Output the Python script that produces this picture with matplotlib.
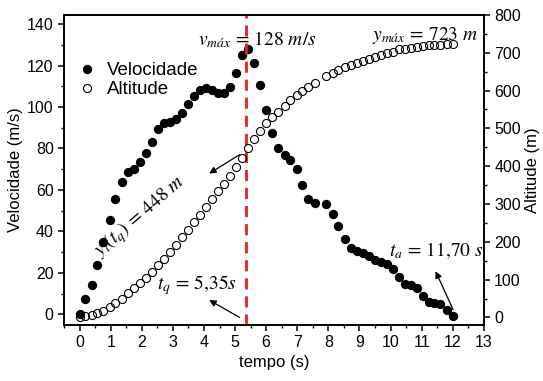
import matplotlib
matplotlib.use("Agg")
import matplotlib.pyplot as plt
from matplotlib.ticker import MultipleLocator

# --- data ---
tempo = [0.00, 0.18, 0.40, 0.57, 0.75, 0.97, 1.15, 1.35, 1.56, 1.74,
         1.94, 2.13, 2.32, 2.52, 2.71, 2.91, 3.10, 3.29, 3.49, 3.67,
         3.87, 4.06, 4.25, 4.45, 4.64, 4.84, 5.04, 5.23, 5.42, 5.62,
         5.81, 6.01, 6.20, 6.39, 6.59, 6.78, 6.98, 7.16, 7.35, 7.56,
         7.94, 8.14, 8.32, 8.52, 8.72, 8.91, 9.11, 9.30, 9.49, 9.69,
         9.88, 10.07, 10.28, 10.46, 10.66, 10.84, 11.03, 11.23, 11.41, 11.60,
         11.81, 12.00]

velocidade = [0.0, 7.5, 13.9, 23.6, 34.9, 45.7, 55.4, 63.9, 68.5, 70.1,
              73.6, 77.7, 83.3, 89.6, 92.5, 93.0, 94.4, 97.3, 101.4, 105.1,
              108.3, 109.1, 108.3, 106.7, 107.0, 109.6, 116.4, 125.3, 128.0, 121.5,
              110.7, 98.6, 87.4, 80.4, 76.8, 74.4, 70.1, 62.3, 55.5, 53.5,
              53.1, 48.6, 42.6, 36.2, 32.0, 30.5, 29.5, 27.9, 26.3, 25.2,
              24.1, 21.8, 17.9, 14.7, 13.9, 12.6, 8.7, 5.8, 5.3, 5.0,
              2.1, -1.0]

altitude = [0, 3, 6, 11, 18, 28, 39, 50, 64, 77,
            90, 103, 121, 138, 154, 174, 191, 212, 231, 251,
            271, 292, 313, 333, 354, 375, 397, 421, 448, 471,
            493, 513, 529, 544, 559, 575, 588, 600, 610, 619,
            638, 647, 654, 661, 667, 673, 679, 683, 688, 694,
            698, 703, 709, 711, 713, 715, 717, 719, 720, 721,
            722, 723]

t_q = 5.35

plt.rcParams['font.family'] = ['Liberation Sans', 'DejaVu Sans']
plt.rcParams['mathtext.fontset'] = 'stix'
plt.rcParams['axes.linewidth'] = 1.2

fig = plt.figure(figsize=(5.43, 3.81), dpi=100)
ax = fig.add_axes([0.118, 0.147, 0.773, 0.814])
ax2 = ax.twinx()

l1, = ax.plot(tempo, velocidade, 'o', color='black', markersize=5.7, label='Velocidade')
l2, = ax2.plot(tempo, altitude, 'o', markerfacecolor='none', markeredgecolor='black',
               markeredgewidth=0.8, markersize=5.8, label='Altitude')

ax.axvline(t_q, color='#e8201f', linewidth=2, linestyle=(0, (4, 2.5)), zorder=5)

ax.set_xlim(-0.5, 13)
ax.set_ylim(-5.2, 144.5)
ax2.set_ylim(-20, 800)

ax.xaxis.set_major_locator(MultipleLocator(1))
ax.xaxis.set_minor_locator(MultipleLocator(0.5))
ax.yaxis.set_major_locator(MultipleLocator(20))
ax.yaxis.set_minor_locator(MultipleLocator(10))
ax2.yaxis.set_major_locator(MultipleLocator(100))
ax2.yaxis.set_minor_locator(MultipleLocator(50))

for a in (ax, ax2):
    a.tick_params(which='major', length=4, width=1.1, labelsize=11.5, direction='out')
    a.tick_params(which='minor', length=2.5, width=1.0, direction='out')

ax.set_xlabel('tempo (s)', fontsize=12, labelpad=3)
ax.set_ylabel('Velocidade (m/s)', fontsize=12, labelpad=3)
ax2.set_ylabel('Altitude (m)', fontsize=12, labelpad=3)

ax2.legend([l1, l2], ['Velocidade', 'Altitude'], loc='upper left', frameon=False,
           fontsize=13.5, handletextpad=0.6, borderaxespad=0.3,
           labelspacing=0.1, bbox_to_anchor=(0.0, 0.89), handlelength=1.0)

# --- annotations ---
ax.text(5.72, 132.5, r'$v_{máx}\,=\,128\ m/s$', fontsize=14, ha='center', va='center')
ax.text(11.1, 134.5, r'$y_{máx}\,=\,723\ m$', fontsize=14, ha='center', va='center')
ax.text(1.95, 47, r'$y_{l}(t_{q})\,=\,448\ m$', fontsize=14, ha='center', va='center',
        rotation=41)
ax.text(3.78, 13.9, r'$t_{q}\,=\,5{,}35s$', fontsize=14, ha='center', va='center')
ax.text(11.46, 30.8, r'$t_{a}\,=\,11{,}70\ s$', fontsize=14, ha='center', va='center')

arrow = dict(arrowstyle='-|>', color='black', lw=0.9, mutation_scale=10)
ax.annotate('', xy=(4.09, 67.2), xytext=(5.22, 77.7), arrowprops=arrow)
ax.annotate('', xy=(4.09, 7.5), xytext=(5.22, -2.2), arrowprops=arrow)
ax.annotate('', xy=(11.41, 22.0), xytext=(12.05, 1.0), arrowprops=arrow)

fig.savefig('out.png', dpi=100)
